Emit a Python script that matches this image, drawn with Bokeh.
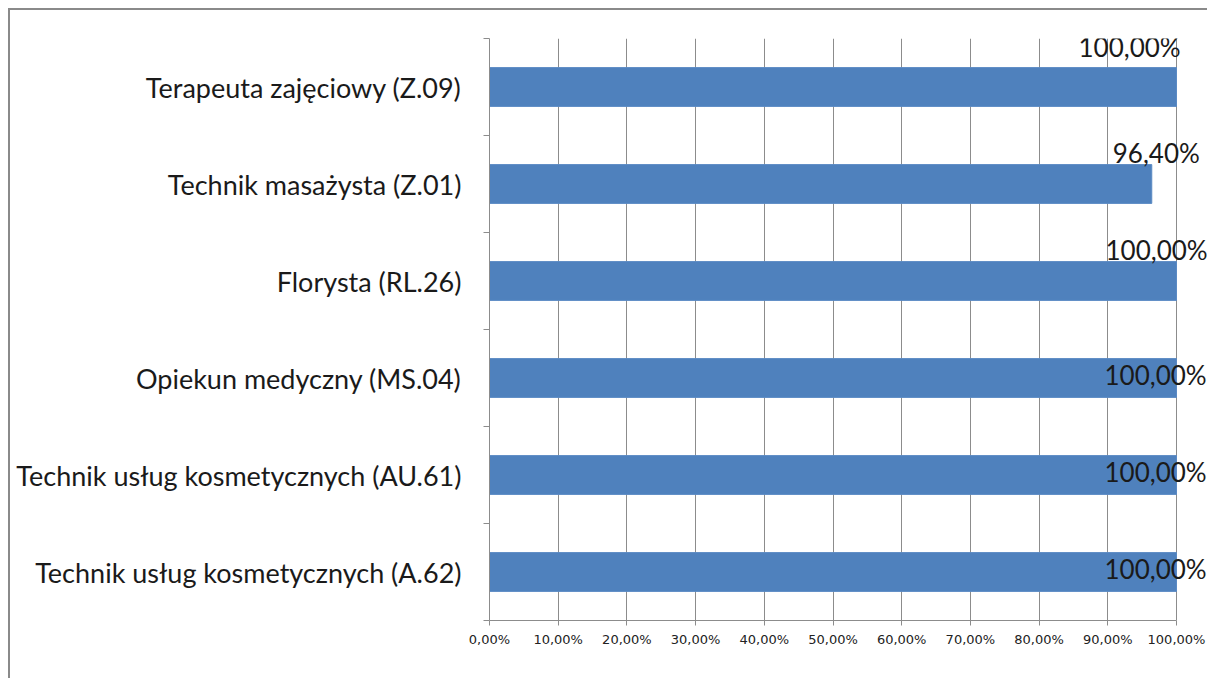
import numpy as np
from bokeh.plotting import figure
from bokeh.models import Range1d, FixedTicker, ColumnDataSource, Label
from bokeh.embed import file_html
from bokeh.resources import INLINE

categories = [
    "Terapeuta zajęciowy (Z.09)",
    "Technik masażysta (Z.01)",
    "Florysta (RL.26)",
    "Opiekun medyczny (MS.04)",
    "Technik usług kosmetycznych (AU.61)",
    "Technik usług kosmetycznych (A.62)",
]
values = [100.0, 96.4, 100.0, 100.0, 100.0, 100.0]
value_labels = ["100,00%", "96,40%", "100,00%", "100,00%", "100,00%", "100,00%"]
x_ticks = [0, 10, 20, 30, 40, 50, 60, 70, 80, 90, 100]
x_tick_labels = ["0,00%", "10,00%", "20,00%", "30,00%", "40,00%", "50,00%",
                 "60,00%", "70,00%", "80,00%", "90,00%", "100,00%"]

# label placement (screen pixels, style only)
label_dx = [-98, -39, -71, -72, -72, -72]
label_dy = [40, 31, 31, 3, 3, 3]

# layout (canvas pixels)
W, H = 1199, 670
frame_left, axis_right_px = 479, 1166
x_max = x_ticks[-1]
x_end = x_max * (W - frame_left) / (axis_right_px - frame_left)

n = len(categories)
ys = np.arange(n) + 0.5
src = ColumnDataSource(dict(y=ys, x=values))

p = figure(width=W, height=H, x_range=Range1d(0, x_end), y_range=Range1d(n, 0),
           output_backend="svg", toolbar_location=None,
           min_border_left=frame_left, min_border_right=0, min_border_top=28, min_border_bottom=60)
p.styles = {"border-left": "2px solid #8a8a8a", "border-top": "2px solid #8a8a8a",
            "margin-left": "8px", "margin-top": "8px"}
p.outline_line_color = None
p.background_fill_color = "white"
p.border_fill_color = "white"

p.hbar(y="y", left=0, right="x", height=0.4, source=src,
       fill_color="#4F81BD", line_color="#5b8ac4", line_width=1)

# grid
p.ygrid.grid_line_color = None
p.xgrid.ticker = FixedTicker(ticks=x_ticks)
p.xgrid.bounds = (0, x_max)
p.xgrid.grid_line_color = "#8c8c8c"
p.xgrid.grid_line_width = 1

# x axis
xa = p.xaxis[0]
xa.ticker = FixedTicker(ticks=x_ticks)
xa.bounds = (0, x_max)
xa.major_label_overrides = {t: l for t, l in zip(x_ticks, x_tick_labels)}
xa.axis_line_color = "#8c8c8c"
xa.major_tick_line_color = "#8c8c8c"
xa.major_tick_out = 5
xa.major_tick_in = 0
xa.minor_tick_line_color = None
xa.major_label_text_font = "DejaVu Sans"
xa.major_label_text_font_size = "13px"
xa.major_label_text_color = "#222222"
xa.major_label_standoff = 6

# y axis: labels at centers, ticks at boundaries
ya = p.yaxis[0]
ya.ticker = FixedTicker(ticks=list(ys), minor_ticks=list(range(n + 1)))
ya.major_label_overrides = {float(y): c for y, c in zip(ys, categories)}
ya.axis_line_color = "#8c8c8c"
ya.major_tick_line_color = None
ya.major_tick_out = 0
ya.major_tick_in = 0
ya.minor_tick_line_color = "#8c8c8c"
ya.minor_tick_out = 6
ya.minor_tick_in = 0
ya.major_label_text_font = "Lato"
ya.major_label_text_font_size = "27px"
ya.major_label_text_color = "#1a1a1a"
ya.major_label_standoff = 22

for xv, yv, t, dx, dy in zip(values, ys, value_labels, label_dx, label_dy):
    p.add_layout(Label(x=xv, y=float(yv), text=t, x_offset=dx, y_offset=dy,
                       text_align="left", text_baseline="middle",
                       text_font="Lato", text_font_size="26px", text_color="#1a1a1a"))

open("out.html", "w").write(file_html(p, INLINE))
